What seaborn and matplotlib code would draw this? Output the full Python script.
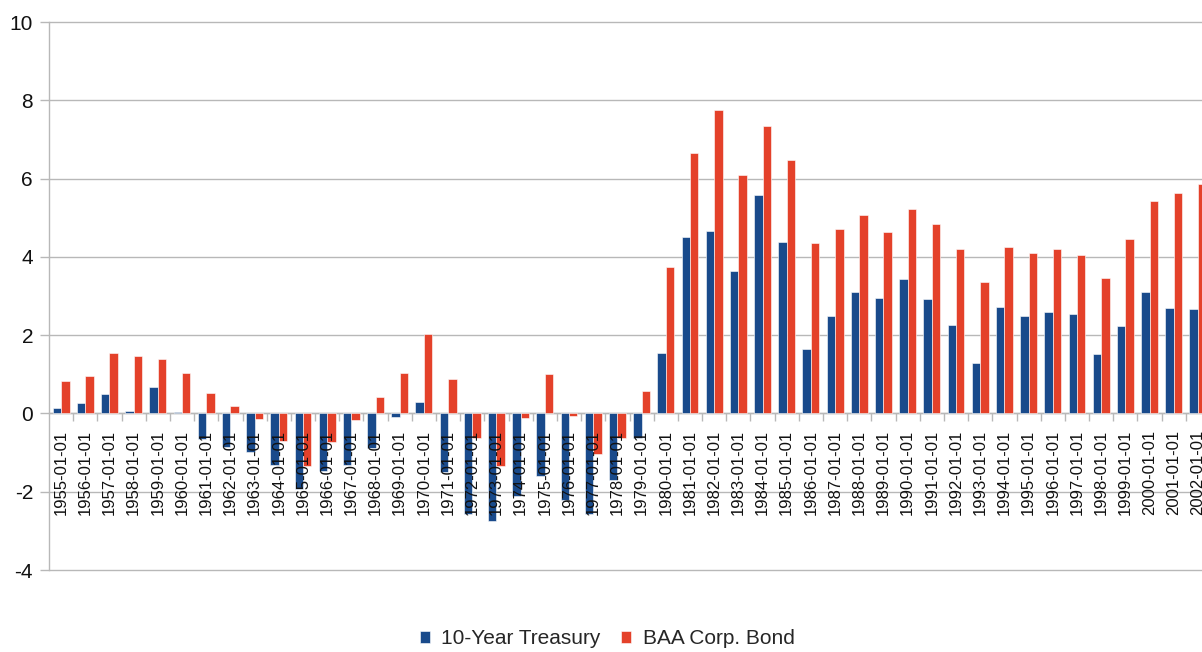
import numpy as np
import pandas as pd
import matplotlib
matplotlib.use("Agg")
import matplotlib.pyplot as plt
import seaborn as sns

years = [f"{y}-01-01" for y in range(1955, 2003)]
treasury = [0.13, 0.27, 0.50, 0.06, 0.67, 0.03, -0.66, -0.87, -0.98, -1.33,
            -1.94, -1.48, -1.33, -0.88, -0.08, 0.29, -1.49, -2.57, -2.75, -2.12,
            -1.61, -2.20, -2.58, -1.71, -0.64, 1.54, 4.51, 4.66, 3.64, 5.58,
            4.37, 1.64, 2.49, 3.09, 2.96, 3.43, 2.92, 2.25, 1.29, 2.71,
            2.49, 2.60, 2.55, 1.51, 2.23, 3.11, 2.70, 2.66]
baa = [0.84, 0.96, 1.55, 1.47, 1.38, 1.03, 0.53, 0.20, -0.14, -0.70,
       -1.35, -0.73, -0.17, 0.41, 1.03, 2.04, 0.89, -0.64, -1.35, -0.12,
       1.00, -0.07, -1.04, -0.64, 0.58, 3.74, 6.65, 7.76, 6.09, 7.34,
       6.47, 4.36, 4.70, 5.07, 4.64, 5.23, 4.85, 4.21, 3.36, 4.24,
       4.11, 4.21, 4.06, 3.46, 4.46, 5.43, 5.63, 5.86]
series_names = ["10-Year Treasury", "BAA Corp. Bond"]
colors = ["#194a8b", "#e4412a"]
y_ticks = [-4, -2, 0, 2, 4, 6, 8, 10]

df = pd.DataFrame({
    "date": years * 2,
    "series": [series_names[0]] * len(years) + [series_names[1]] * len(years),
    "value": treasury + baa,
})

sns.set_style("white")
plt.rcParams["font.family"] = ["Liberation Sans", "DejaVu Sans"]

fig = plt.figure(figsize=(12.02, 6.52), dpi=100)
W, H = 1202, 652
left, right, top, bottom = 49, 1210, 22, 570
ax = fig.add_axes([left / W, 1 - bottom / H, (right - left) / W, (bottom - top) / H])

sns.barplot(data=df, x="date", y="value", hue="series", hue_order=series_names,
            palette=colors, width=0.7, ax=ax, saturation=1,
            edgecolor="white", linewidth=0.4, errorbar=None, zorder=2)
ax.get_legend().remove()

grid_col = "#b8b8b8"
ax.set_ylim(-4, 10)
ax.set_xlim(-0.5, len(years) - 0.5)
ax.set_yticks(y_ticks)
ax.set_yticklabels([str(t) for t in y_ticks], fontsize=15, color="#111111")
for t in y_ticks:
    ax.axhline(t, color=grid_col, linewidth=1.0, zorder=0, clip_on=False)
ax.set_axisbelow(False)
ax.set_xlabel("")
ax.set_ylabel("")

for s in ["top", "right"]:
    ax.spines[s].set_visible(False)
ax.spines["left"].set_color(grid_col)
ax.spines["left"].set_linewidth(1.0)
ax.spines["left"].set_zorder(0.5)
ax.spines["bottom"].set_position(("data", 0))
ax.spines["bottom"].set_color(grid_col)
ax.spines["bottom"].set_linewidth(1.0)
ax.spines["bottom"].set_zorder(0.5)

ax.tick_params(axis="y", length=6.5, width=1.0, color=grid_col, pad=5, left=True)
ax.set_xticks(range(len(years)))
ax.set_xticklabels(years, rotation=90, fontsize=12, color="#111111")
ax.tick_params(axis="x", which="major", length=0, pad=12)
ax.set_xticks(np.arange(0.5, len(years) - 0.5, 1.0), minor=True)
ax.tick_params(axis="x", which="minor", length=6, width=1.0, color=grid_col, bottom=True)

handles, labels = ax.get_legend_handles_labels()
fig.legend(handles, labels, loc="center", bbox_to_anchor=(0.505, 0.02),
           ncol=2, frameon=False, fontsize=15, handlelength=0.5, handleheight=0.5,
           handletextpad=0.55, columnspacing=0.95)

fig.savefig("out.png", dpi=100)
